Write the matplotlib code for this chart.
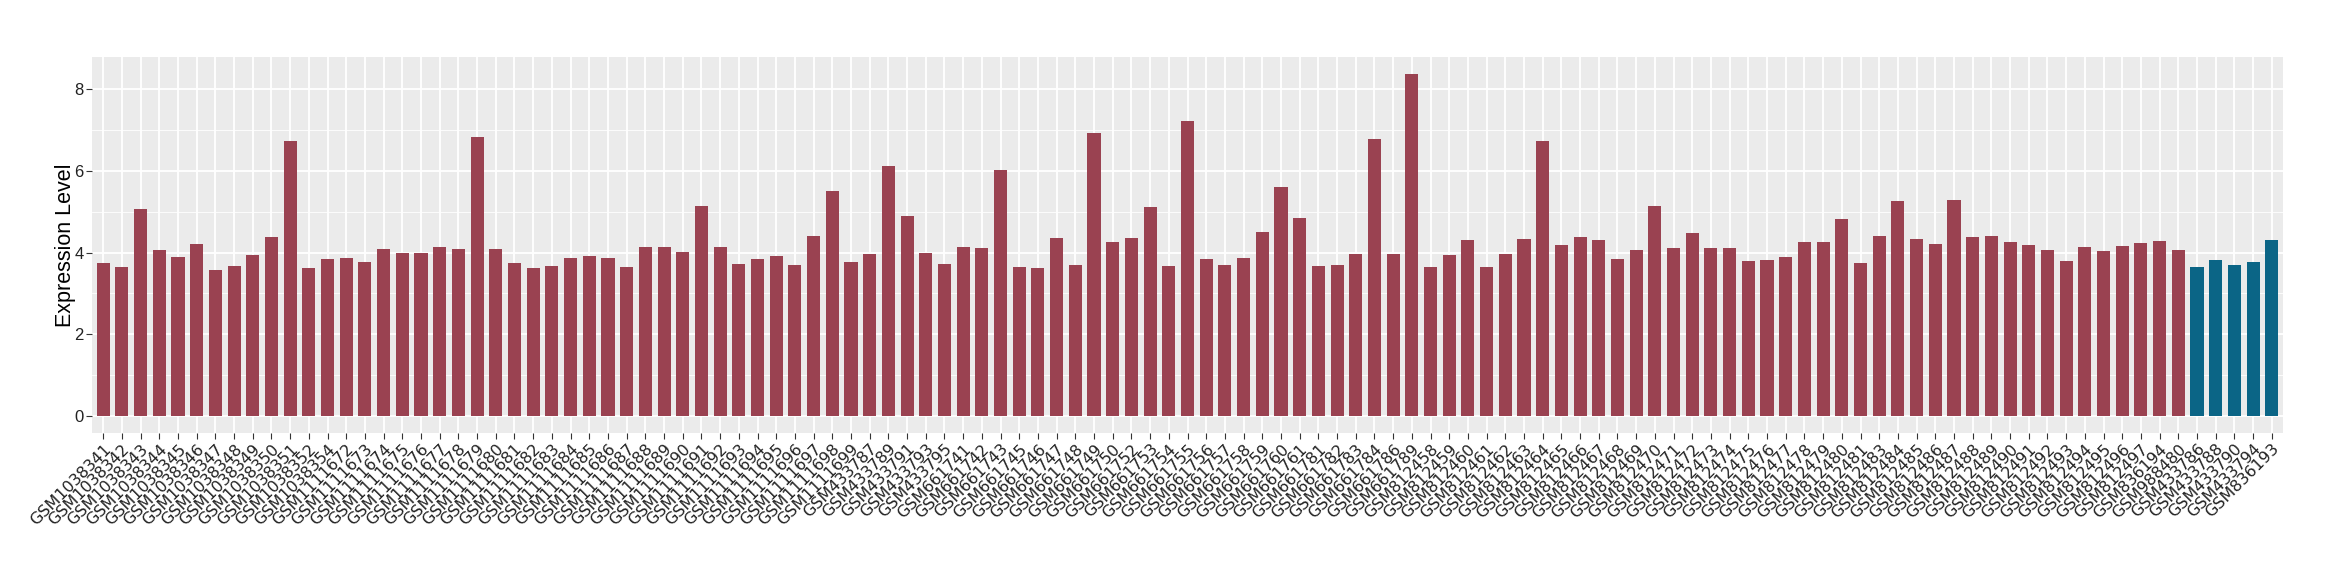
import numpy as np
import matplotlib
matplotlib.use("Agg")
import matplotlib.pyplot as plt
from matplotlib.ticker import MultipleLocator

# sample ids
samples = (
    ["GSM10383%d" % n for n in range(41, 53)] + ["GSM1038354"]
    + ["GSM1111%d" % n for n in range(672, 700)]
    + ["GSM433787", "GSM433789", "GSM433791", "GSM433793", "GSM433795"]
    + ["GSM661%d" % n for n in [741, 742, 743, 745, 746, 747, 748, 749, 750, 752,
                                753, 754, 755, 756, 757, 758, 759, 760, 761, 781,
                                782, 783, 784, 786, 789]]
    + ["GSM812%d" % n for n in list(range(458, 482)) + list(range(483, 498))]
    + ["GSM836194", "GSM988480"]
    + ["GSM433786", "GSM433788", "GSM433790", "GSM433794", "GSM836193"]
)

expression = [
    3.75, 3.65, 5.07, 4.07, 3.89, 4.21, 3.58, 3.67, 3.94, 4.38,
    6.73, 3.62, 3.84, 3.87, 3.77, 4.09, 3.99, 3.99, 4.14, 4.09,
    6.83, 4.09, 3.75, 3.62, 3.67, 3.87, 3.92, 3.87, 3.65, 4.14,
    4.14, 4.02, 5.14, 4.14, 3.72, 3.84, 3.92, 3.70, 4.41, 5.51,
    3.77, 3.97, 6.12, 4.90, 3.99, 3.72, 4.14, 4.11, 6.02, 3.65,
    3.62, 4.36, 3.70, 6.93, 4.26, 4.36, 5.12, 3.67, 7.22, 3.84,
    3.70, 3.87, 4.51, 5.61, 4.85, 3.67, 3.70, 3.97, 6.78, 3.97,
    8.38, 3.65, 3.94, 4.31, 3.65, 3.97, 4.33, 6.73, 4.19, 4.38,
    4.31, 3.84, 4.07, 5.14, 4.11, 4.48, 4.11, 4.11, 3.80, 3.82,
    3.89, 4.26, 4.26, 4.82, 3.75, 4.41, 5.27, 4.33, 4.21, 5.29,
    4.38, 4.41, 4.26, 4.19, 4.07, 3.80, 4.14, 4.04, 4.16, 4.24,
    4.29, 4.07, 3.65, 3.82, 3.70, 3.77, 4.31,
]

groups = ["case"] * 112 + ["control"] * 5
group_colors = {"case": "#9a4251", "control": "#0b6586"}

fig = plt.figure(figsize=(23.4, 5.8), dpi=100)
ax = fig.add_axes([92 / 2340, 1 - 433 / 580, (2283 - 92) / 2340, (433 - 56.7) / 580])

x = np.arange(len(samples))
ax.bar(x, expression, width=0.7, color=[group_colors[g] for g in groups], zorder=3)

# ggplot-ish look
ax.set_facecolor("#ebebeb")
for s in ax.spines.values():
    s.set_visible(False)
ax.set_xlim(-0.6, len(samples) - 1 + 0.6)
ymax = max(expression)
ax.set_ylim(-0.05 * ymax, ymax * 1.05)
ax.yaxis.set_major_locator(MultipleLocator(2))
ax.yaxis.set_minor_locator(MultipleLocator(1))
ax.grid(which="major", color="white", linewidth=1.3, zorder=0)
ax.grid(which="minor", axis="y", color="white", linewidth=0.6, zorder=0)
ax.set_axisbelow(True)

ax.set_xticks(x)
ax.set_xticklabels(samples, rotation=45, ha="right", va="top", rotation_mode="anchor",
                   fontsize=11.5, family="DejaVu Sans", color="#222222")
ax.tick_params(axis="x", length=4, width=0.8, color="#333333", pad=2)
ax.tick_params(axis="y", which="major", length=4, width=0.8, color="#333333", pad=2,
               labelsize=12, labelcolor="#222222")
ax.tick_params(axis="y", which="minor", length=0)
for lab in ax.get_yticklabels():
    lab.set_family("Liberation Sans")

ax.set_ylabel("Expression Level", fontsize=15.5, family="Liberation Sans")
ax.yaxis.set_label_coords(-0.0075, 0.5)

fig.savefig("out.png", dpi=100)
